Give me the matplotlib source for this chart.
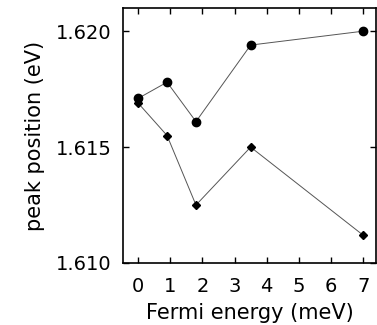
import matplotlib
matplotlib.use('Agg')
import matplotlib.pyplot as plt

fermi_circ = [0.0, 0.9, 1.8, 3.5, 7.0]
peak_circ = [1.6171, 1.6178, 1.6161, 1.6194, 1.6200]
fermi_diam = [0.0, 0.9, 1.8, 3.5, 7.0]
peak_diam = [1.6169, 1.6155, 1.6125, 1.6150, 1.6112]

xticks = [0, 1, 2, 3, 4, 5, 6, 7]
yticks = [1.610, 1.615, 1.620]

plt.rcParams['font.family'] = 'DejaVu Sans'

fig = plt.figure(figsize=(3.77, 3.25), dpi=100)
ax = fig.add_axes([123 / 377, 1 - 263 / 325, (376 - 123) / 377, (263 - 8) / 325])

ax.plot(fermi_circ, peak_circ, color='#555555', lw=0.7, marker='o', ms=6,
        mfc='black', mec='black')
ax.plot(fermi_diam, peak_diam, color='#555555', lw=0.7, marker='D', ms=4,
        mfc='black', mec='black')

ax.set_xlim(-0.47, 7.4)
ax.set_ylim(1.610, 1.621)
ax.set_xticks(xticks)
ax.set_yticks(yticks)
ax.set_yticklabels(['%.3f' % v for v in yticks])
ax.tick_params(direction='in', top=True, right=True, length=4, width=1,
               labelsize=14, pad=8)
ax.tick_params(axis='x', pad=10)
for s in ax.spines.values():
    s.set_linewidth(1.2)

ax.set_xlabel('Fermi energy (meV)', fontsize=15, labelpad=5)
ax.set_ylabel('peak position (eV)', fontsize=15, labelpad=8)

fig.savefig('out.png', dpi=100)
